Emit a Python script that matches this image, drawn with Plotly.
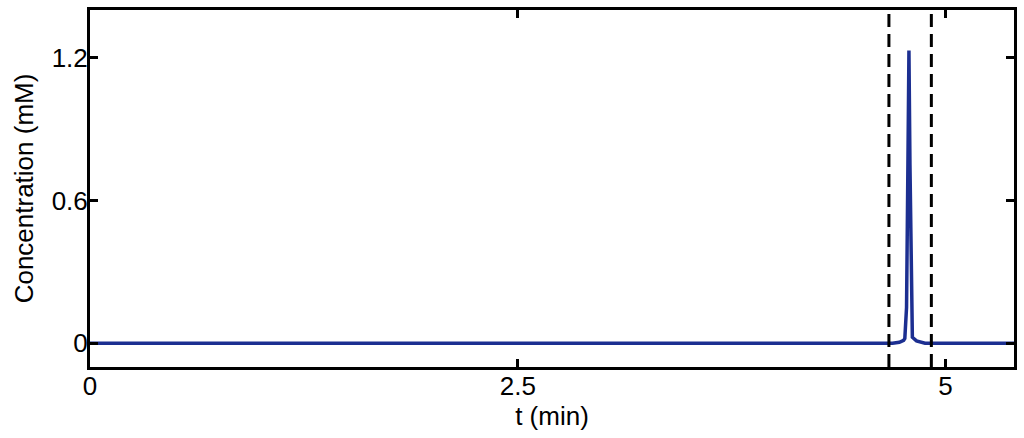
import plotly.graph_objects as go

# chromatogram trace (time in min, concentration in mM)
t_min = [0, 4.69, 4.73, 4.755, 4.762, 4.772, 4.780, 4.786, 4.792, 4.800, 4.806, 4.83, 4.88, 5.4]
conc_mM = [0, 0, 0.004, 0.012, 0.02, 0.15, 0.75, 1.23, 0.75, 0.12, 0.025, 0.01, 0, 0]

# collection window boundaries
window_t = [4.669, 4.917]

x_ticks = [0, 2.5, 5]
x_tick_labels = ['0', '2.5', '5']
y_ticks = [0, 0.6, 1.2]
y_tick_labels = ['0', '0.6', '1.2']

FONT = 'Liberation Sans, Arial, Helvetica, sans-serif'

fig = go.Figure()

fig.add_trace(go.Scatter(
    x=t_min, y=conc_mM,
    mode='lines',
    line=dict(color='#1c2f91', width=3.5),
    showlegend=False
))

for xv in window_t:
    fig.add_vline(x=xv, line=dict(color='black', width=3, dash='13px,7px'))

axis_common = dict(
    showgrid=False,
    zeroline=False,
    showline=True,
    linecolor='black',
    linewidth=3,
    mirror='allticks',
    ticks='inside',
    ticklen=8,
    tickwidth=3,
    tickcolor='black',
    ticklabelstandoff=-6,
    automargin=False,
    tickfont=dict(family=FONT, size=26, color='black'),
)

fig.update_layout(
    width=1024, height=438,
    margin=dict(l=90, r=10, t=10, b=71),
    plot_bgcolor='white',
    paper_bgcolor='white',
    font=dict(family=FONT, color='black'),
    xaxis=dict(
        range=[0, 5.4],
        tickvals=x_ticks, ticktext=x_tick_labels,
        title=dict(text='t (min)', font=dict(size=26), standoff=6),
        **axis_common
    ),
    yaxis=dict(
        range=[-0.1, 1.4],
        tickvals=y_ticks, ticktext=y_tick_labels,
        title=dict(text='Concentration (mM)', font=dict(size=26), standoff=11),
        **axis_common
    ),
)

# drop the default page margin so the figure sits flush in the window
fig.write_html("out.html", config={'displayModeBar': False},
               post_script="document.body.style.margin='0';")
